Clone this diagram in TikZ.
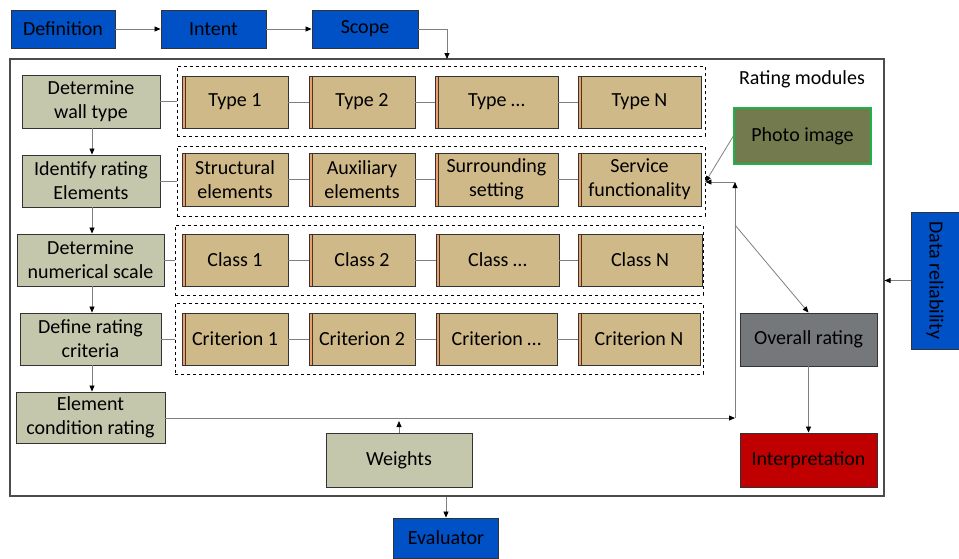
\documentclass[tikz,border=0pt]{standalone}
\usepackage{fontspec}
\setmainfont{Carlito}
\usetikzlibrary{arrows.meta}
\definecolor{cblue}{HTML}{0050C6}
\definecolor{cgreen}{HTML}{C4C7AC}
\definecolor{ctan}{HTML}{CFB988}
\definecolor{cphoto}{HTML}{737A4E}
\definecolor{cphotoedge}{HTML}{22B04C}
\definecolor{cgray}{HTML}{75787B}
\definecolor{cred}{HTML}{C00000}
\definecolor{cstripe}{HTML}{E8A070}
\definecolor{cline}{HTML}{7F7F7F}
\tikzset{
  base/.style={draw=black!80, line width=0.9pt, font=\fontsize{20}{24}\selectfont, align=center, inner sep=0pt, text=black},
  bluebox/.style={base, fill=cblue},
  greenbox/.style={base, fill=cgreen},
  tanbox/.style={base, fill=ctan, minimum height=52pt,
    path picture={\fill[cstripe] (path picture bounding box.south west) rectangle ([xshift=3pt]path picture bounding box.north west);
      \draw[black!60!brown, line width=0.8pt] ([xshift=3.5pt]path picture bounding box.south west) -- ([xshift=3.5pt]path picture bounding box.north west);}},
  grp/.style={draw=black, dashed, line width=0.8pt, inner sep=0pt},
  conn/.style={draw=cline, line width=0.8pt},
  arr/.style={conn, -{Triangle[length=6pt,width=5pt,color=black]}},
}
\begin{document}
\begin{tikzpicture}[x=1pt,y=-1pt]
\useasboundingbox (0,0) rectangle (959,558);
% outer box
\node[draw=black!70, line width=1.2pt, minimum width=874pt, minimum height=437pt, inner sep=0pt] (outer) at (447,277.5) {};
\node[font=\fontsize{20}{24}\selectfont] (rm) at (802,79) {Rating modules};
% top row
\node[bluebox, minimum width=104pt, minimum height=38pt] (def) at (63,29) {Definition};
\node[bluebox, minimum width=105pt, minimum height=38pt] (int) at (213.5,29) {Intent};
\node[bluebox, minimum width=106pt, minimum height=38pt] (sco) at (365,29) {Scope};
\coordinate (scoin) at (447,59);
\draw[arr] (def) -- (int);
\draw[arr] (int) -- (sco);
\draw[arr] (sco.east) -| (scoin);
% left column
\node[greenbox, minimum width=138pt, minimum height=53pt] (wt) at (91,101.5) {Determine\\wall type};
\node[greenbox, minimum width=138pt, minimum height=52pt] (ir) at (91,181) {Identify rating\\Elements};
\node[greenbox, minimum width=147pt, minimum height=52pt] (ns) at (90.5,260) {Determine\\numerical scale};
\node[greenbox, minimum width=141pt, minimum height=52pt] (rc) at (90.5,339) {Define rating\\criteria};
\node[greenbox, minimum width=149pt, minimum height=51pt] (ecr) at (90.5,417.5) {Element\\condition rating};
\draw[arr] (wt.south -| 92,0) -- (ir.north -| 92,0);
\draw[arr] (ir.south -| 92,0) -- (ns.north -| 92,0);
\draw[arr] (ns.south -| 92,0) -- (rc.north -| 92,0);
\draw[arr] (rc.south -| 92,0) -- (ecr.north -| 92,0);
% groups
\node[grp, minimum width=528pt, minimum height=70pt] (g1) at (441,101) {};
\node[grp, minimum width=528pt, minimum height=70pt] (g2) at (441,181) {};
\node[grp, minimum width=528pt, minimum height=70pt] (g3) at (439,260) {};
\node[grp, minimum width=528pt, minimum height=71pt] (g4) at (439,338.5) {};
\draw[conn] (wt.east) -- (wt.east -| g1.west);
\draw[conn] (ir.east) -- (ir.east -| g2.west);
\draw[conn] (ns.east) -- (ns.east -| g3.west);
\draw[conn] (rc.east) -- (rc.east -| g4.west);
% row 1
\node[tanbox, minimum width=106pt] (a1) at (235,102) {Type 1};
\node[tanbox, minimum width=106pt] (a2) at (362,102) {Type 2};
\node[tanbox, minimum width=123pt] (a3) at (496.5,102) {Type …};
\node[tanbox, minimum width=123pt] (a4) at (639.5,102) {Type N};
% row 2
\node[tanbox, minimum width=106pt, minimum height=53pt] (b1) at (235,179.5) {Structural\\elements};
\node[tanbox, minimum width=106pt, minimum height=53pt] (b2) at (362,179.5) {Auxiliary\\elements};
\node[tanbox, minimum width=123pt, minimum height=53pt] (b3) at (496.5,179.5) {Surrounding\\setting};
\node[tanbox, minimum width=123pt, minimum height=53pt] (b4) at (639.5,179.5) {Service\\functionality};
% row 3
\node[tanbox, minimum width=106pt] (c1) at (235,260) {Class 1};
\node[tanbox, minimum width=106pt] (c2) at (362,260) {Class 2};
\node[tanbox, minimum width=123pt] (c3) at (497.5,260) {Class …};
\node[tanbox, minimum width=124pt] (c4) at (640,260) {Class N};
% row 4
\node[tanbox, minimum width=106pt] (d1) at (235,339) {Criterion 1};
\node[tanbox, minimum width=106pt] (d2) at (362,339) {Criterion 2};
\node[tanbox, minimum width=121pt] (d3) at (496.5,339) {Criterion …};
\node[tanbox, minimum width=122pt] (d4) at (639,339) {Criterion N};
\foreach \r in {a,b,c,d}{
  \draw[conn] (\r1) -- (\r2);
  \draw[conn] (\r2) -- (\r3);
  \draw[conn] (\r3) -- (\r4);
}
% right side
\node[base, fill=cphoto, draw=cphotoedge, line width=1.2pt, minimum width=137pt, minimum height=56pt] (photo) at (802.5,136) {Photo image};
\node[base, fill=cgray, minimum width=137pt, minimum height=53pt] (ov) at (808.5,339.5) {Overall rating};
\node[base, fill=cred, minimum width=137pt, minimum height=54pt] (interp) at (808.5,460) {Interpretation};
\node[greenbox, minimum width=146pt, minimum height=54pt] (wts) at (399,460) {Weights};
\node[bluebox, minimum width=48pt, minimum height=137pt] (dr) at (935,280.5) {};
\node[font=\fontsize{20}{24}\selectfont, rotate=-90] (drt) at (dr.center) {Data reliability};
\node[bluebox, minimum width=105pt, minimum height=40pt] (ev) at (446,538) {Evaluator};
% connectors
\coordinate (jr) at (735,418);
\coordinate (jt) at (735,182);
\coordinate (jd) at (735,225);
\coordinate (wtop) at (399,421);
\draw[arr] (ecr.east |- jr) -- (jr);
\draw[arr] (jr) -- (jt);
\draw[arr] (jt) -- (g2.east |- jt);
\draw[arr] (photo.west) -- (g2.east |- jt);
\draw[arr] (jd) -- (ov.north);
\draw[arr] (ov) -- (interp);
\draw[arr] (wts.north) -- (wtop);
\draw[arr] (dr.west) -- (outer.east |- dr.west);
\draw[arr] (outer.south -| ev.north) -- (ev.north);
\end{tikzpicture}
\end{document}
